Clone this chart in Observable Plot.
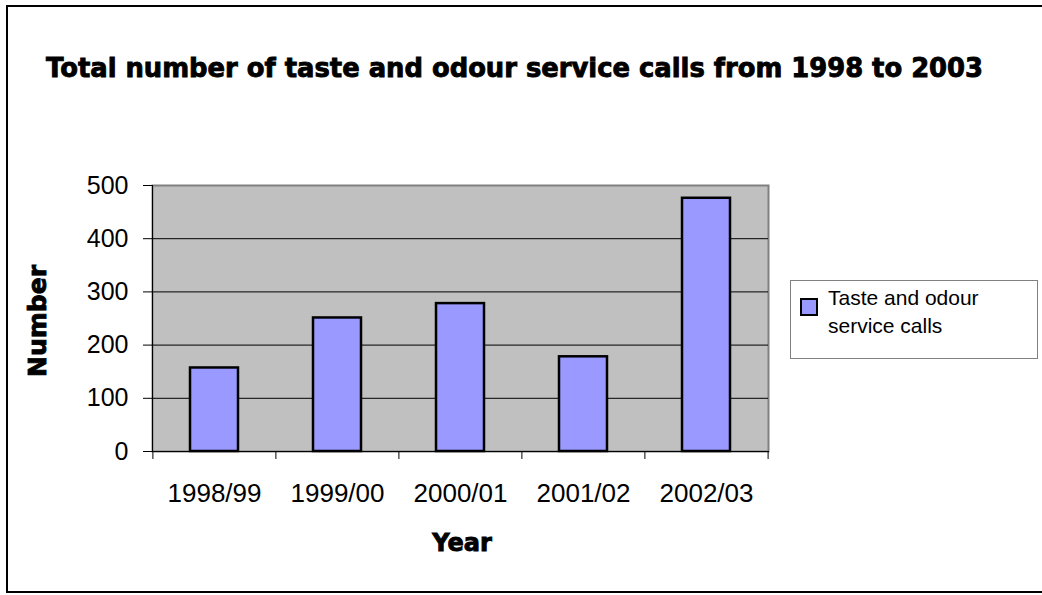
<!DOCTYPE html>
<html>
<head>
<meta charset="utf-8">
<script src="https://cdn.jsdelivr.net/npm/d3@7"></script>
<script src="https://cdn.jsdelivr.net/npm/@observablehq/plot@0.6"></script>
<style>
  html, body { margin: 0; padding: 0; background: #fff; }
  #wrap { position: relative; width: 1042px; height: 595px; overflow: hidden; font-family: "Liberation Sans", Arial, sans-serif; }
  #border { position: absolute; left: 6px; top: 5px; width: 1100px; height: 588px; border: 2px solid #000; box-sizing: border-box; }
  #chart { position: absolute; left: 0; top: 0; }
  .heavy { position: absolute; font-family: "DejaVu Sans", sans-serif; font-weight: 900; color: #000; white-space: nowrap; -webkit-text-stroke: 0.9px #000; }
  #title { left: 46px; top: 54px; font-size: 27px; line-height: 1; transform-origin: 0 0; }
  #ylab { left: 37px; top: 321px; font-size: 25px; transform: translate(-50%, -50%) rotate(-90deg); }
  #xlab { left: 462px; top: 543px; font-size: 24px; transform: translate(-50%, -50%); }
  #legend { position: absolute; left: 790px; top: 280px; width: 248px; height: 79px; border: 1px solid #808080; box-sizing: border-box; background: #fff; }
  #legend .sw { position: absolute; left: 9px; top: 17px; width: 14px; height: 14px; border: 2px solid #000; background: #9999ff; }
  #legend .tx { position: absolute; left: 37px; top: 3px; font-size: 21px; line-height: 28px; color: #000; }
</style>
</head>
<body>
<div id="wrap">
  <div id="border"></div>
  <div id="chart"></div>
  <div id="title" class="heavy">Total number of taste and odour service calls from 1998 to 2003</div>
  <div id="ylab" class="heavy">Number</div>
  <div id="xlab" class="heavy">Year</div>
  <div id="legend"><div class="sw"></div><div class="tx">Taste and odour<br>service calls</div></div>
</div>
<script>
const years = ["1998/99", "1999/00", "2000/01", "2001/02", "2002/03"];
const calls = [157, 251, 278, 178, 476];
const yTicks = [0, 100, 200, 300, 400, 500];
const gridValues = [100, 200, 300, 400];
const seriesName = "Taste and odour service calls";

const data = years.map((year, i) => ({year, calls: calls[i]}));

const W = 1042, H = 595;
const mL = 152, mR = 274, mT = 185, mB = 144;
const step = (W - mL - mR) / years.length;

const chart = Plot.plot({
  width: W,
  height: H,
  marginLeft: mL,
  marginRight: mR,
  marginTop: mT,
  marginBottom: mB,
  style: {background: "transparent", fontFamily: "Liberation Sans, Arial, sans-serif", fontSize: "25px", color: "#000", overflow: "visible"},
  x: {domain: years, paddingInner: 0.61, paddingOuter: 0.305, label: null},
  y: {domain: [0, 500], label: null},
  marks: [
    Plot.frame({fill: "#c0c0c0", stroke: "#808080", strokeWidth: 2}),
    Plot.ruleY(gridValues, {stroke: "#000", strokeWidth: 1}),
    Plot.barY(data, {x: "year", y: "calls", fill: "#9999ff", stroke: "#000", strokeWidth: 2.5}),
    Plot.frame({anchor: "left", stroke: "#000", strokeWidth: 1}),
    Plot.frame({anchor: "bottom", stroke: "#000", strokeWidth: 1}),
    Plot.ruleX(years, {x: d => d, dx: -step / 2, y1: 0, y2: -15, stroke: "#000", strokeWidth: 1}),
    Plot.ruleX([years[years.length - 1]], {x: d => d, dx: step / 2, y1: 0, y2: -15, stroke: "#000", strokeWidth: 1}),
    Plot.axisY({ticks: yTicks, tickSize: 9, tickPadding: 15, fontSize: 25, fontWeight: 300, tickFormat: d => String(d)}),
    Plot.axisX({tickSize: 0, tickPadding: 32, fontSize: 26, fontWeight: 300})
  ]
});
document.getElementById("chart").appendChild(chart);

// fit title width to the reference extent
const t = document.getElementById("title");
const tw = t.getBoundingClientRect().width;
t.style.transform = `scaleX(${937 / tw})`;
</script>
</body>
</html>
